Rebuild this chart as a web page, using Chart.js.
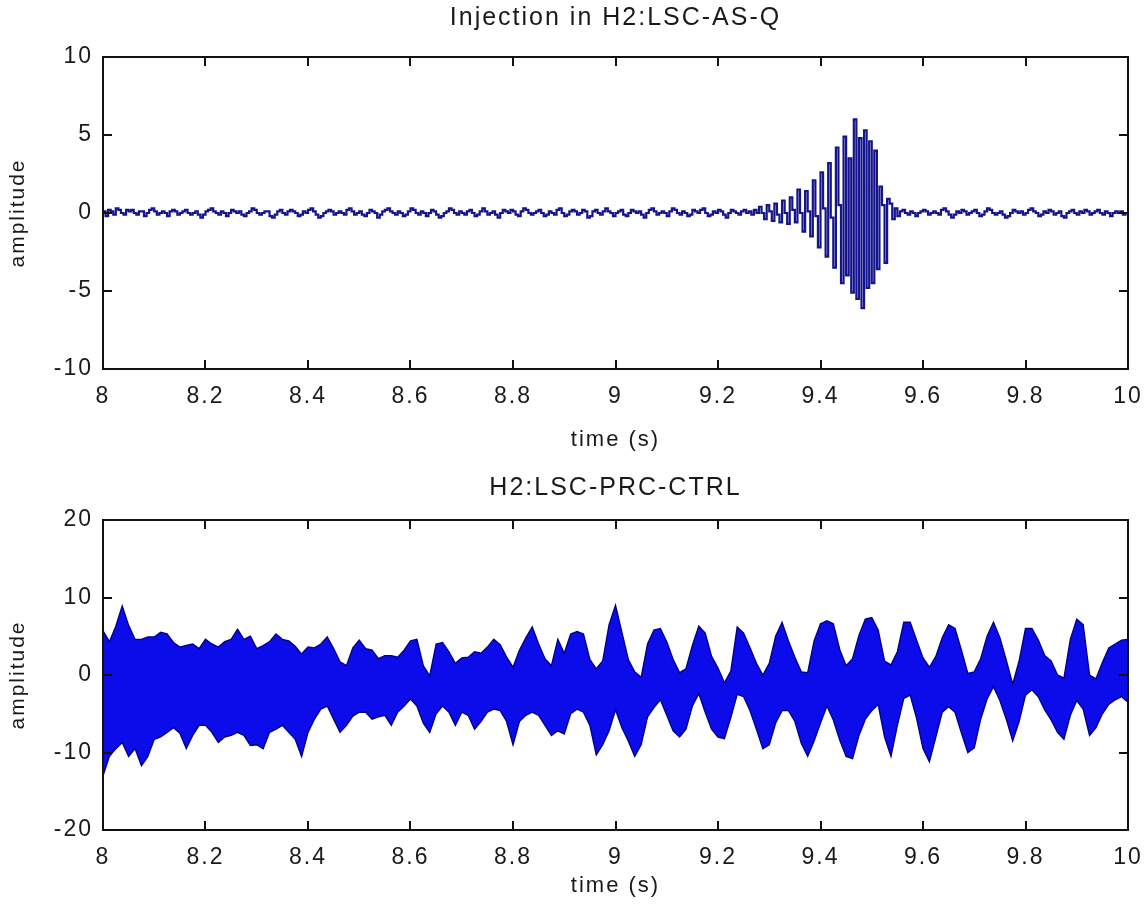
<!DOCTYPE html>
<html>
<head>
<meta charset="utf-8">
<title>H2 injection</title>
<script src="https://cdn.jsdelivr.net/npm/chart.js@4.4.1/dist/chart.umd.min.js"></script>
<style>
  html, body { margin: 0; padding: 0; background: #ffffff; }
  #wrap { position: relative; width: 1144px; height: 916px; background: #ffffff; }
  canvas { position: absolute; left: 0; }
  #top { top: 0; }
  #bottom { top: 458px; }
</style>
</head>
<body>
<div id="wrap">
  <canvas id="top" width="1144" height="458"></canvas>
  <canvas id="bottom" width="1144" height="458"></canvas>
</div>
<script>
// ---- axis ticks ----
const xTicks = [8, 8.2, 8.4, 8.6, 8.8, 9, 9.2, 9.4, 9.6, 9.8, 10];
const xTickLabels = ['8', '8.2', '8.4', '8.6', '8.8', '9', '9.2', '9.4', '9.6', '9.8', '10'];
const yTicksTop = [-10, -5, 0, 5, 10];
const yTicksBottom = [-20, -10, 0, 10, 20];

// ---- H2:LSC-AS-Q, sampled every 5 ms from t = 8 s ----
const tStartTop = 8;
const dtTop = 0.005;
const asqBefore = [
  0.1,-0.2,0.2,0.1,-0.1,0.3,0.2,0.0,-0.1,0.2,0.1,0.2,0.0,-0.1,0.1,0.1,-0.2,0.0,0.2,0.3,
  0.1,-0.1,0.0,0.1,0.0,-0.2,0.1,0.2,0.1,-0.1,0.0,0.1,0.2,0.0,-0.1,0.0,0.1,-0.1,-0.3,-0.1,
  0.1,0.2,0.3,0.1,0.0,-0.1,0.1,0.0,-0.2,0.0,0.2,0.1,0.0,0.1,-0.1,-0.2,0.0,0.1,0.3,0.2,
  0.0,-0.1,0.0,0.1,0.1,-0.2,-0.3,-0.1,0.1,0.2,0.0,-0.1,0.1,0.2,0.1,0.0,-0.2,-0.1,0.1,0.0,
  0.2,0.3,0.1,-0.1,-0.3,-0.2,0.0,0.1,0.2,0.1,-0.1,0.0,0.1,0.0,-0.1,0.2,0.3,0.1,-0.1,0.0,
  0.1,-0.1,-0.2,0.0,0.2,0.1,0.0,-0.3,-0.1,0.1,0.2,0.3,0.1,0.0,-0.1,0.1,0.0,-0.2,-0.1,0.1,
  0.3,0.2,0.0,-0.1,0.1,0.0,-0.2,0.0,0.2,0.1,-0.1,-0.3,-0.2,0.0,0.1,0.3,0.2,0.0,-0.1,0.1,
  0.0,-0.1,0.1,0.2,0.0,-0.2,-0.1,0.1,0.3,0.1,-0.1,0.0,0.1,-0.1,-0.3,0.0,0.2,0.1,0.0,0.2,
  0.1,-0.1,-0.2,0.1,0.3,0.2,0.0,-0.1,0.0,0.1,0.2,0.0,-0.2,-0.1,0.1,0.0,-0.1,0.2,0.3,0.0,
  -0.2,-0.1,0.1,0.2,0.1,-0.1,0.0,0.2,0.1,-0.3,-0.2,0.1,0.2,0.0,-0.1,0.1,0.3,0.1,0.0,-0.2,
  0.0,0.1,0.2,-0.1,-0.2,0.0,0.2,0.1,0.0,0.1,-0.1,-0.3,0.0,0.2,0.3,0.1,-0.1,0.0,0.1,0.0,
  -0.2,0.1,0.3,0.2,0.0,-0.1,0.1,0.0,-0.2,-0.1,0.2,0.1,0.0,0.2,0.3,0.0,-0.2,-0.1,0.1,0.0,
  0.2,0.1,-0.1,-0.3,0.0,0.2,0.1,0.0,-0.1,0.1,0.2,0.0,0.1,-0.1,0.2,0.0
];
// burst: growing oscillation from 9.28 s, densest around the 9.465 s peak
const asqBurst = [
  0.4,0.0,-0.4,  0.5,0.1,-0.5,  0.6,-0.1,-0.6,  0.8,0.0,-0.7,
  1.0,0.2,-0.6,  1.5,0.0,-1.2,  1.4,0.1,-1.5,  2.1,-0.2,-2.2,
  2.6,0.3,-2.8,  3.2,-0.3,-3.5, 4.2,0.5,-4.5,
  4.9,-4.0,3.5,-5.1,6.0,-5.5,4.8,-6.1,5.3,-4.8,4.6,-4.5,4.0,-3.6,
  1.7,0.5,-3.2,0.9,0.6,-0.4
];
const asqAfter = [
  0.3,-0.2,0.1,0.2,0.0,-0.1,0.1,0.0,-0.2,0.0,0.1,0.2,0.1,-0.1,0.0,0.1,0.0,-0.1,0.2,0.3,
  0.1,-0.1,-0.3,-0.1,0.1,0.0,0.2,0.1,-0.1,0.0,0.1,0.2,0.0,-0.2,-0.1,0.1,0.3,0.2,0.0,-0.1,
  0.0,0.1,-0.1,-0.3,-0.2,0.0,0.2,0.1,0.0,0.1,-0.1,0.0,0.2,0.3,0.1,0.0,-0.2,-0.1,0.1,0.0,
  0.2,0.1,-0.1,0.0,0.1,-0.2,-0.3,0.0,0.1,0.2,0.0,-0.1,0.1,0.0,0.2,0.1,-0.1,0.0,0.1,0.2,
  0.0,-0.1,0.1,0.0,-0.2,0.0,0.1,0.0,0.1,-0.1,0.0,0.1
];

// ---- H2:LSC-PRC-CTRL, upper and lower envelope every 12.5 ms from t = 8 s ----
const tStartEnv = 8;
const dtEnv = 0.0125;
const prcUpper = [
  5.7,4.3,6.3,8.9,6.4,4.6,4.6,4.9,4.9,5.5,
  5.3,4.2,3.6,3.8,4.0,3.4,4.6,4.0,3.6,4.3,
  4.6,5.9,4.6,5.0,3.4,3.8,4.3,5.3,4.6,4.4,
  3.7,2.7,3.6,3.5,4.0,4.9,3.4,1.7,1.2,3.5,
  4.5,3.4,3.2,2.1,2.5,2.5,2.3,3.2,4.4,4.6,
  1.2,-0.1,4.0,4.2,3.0,1.5,2.2,2.3,3.0,2.8,
  3.6,4.6,3.9,2.3,1.0,3.2,4.8,6.2,4.0,2.1,
  1.2,4.6,2.8,5.3,5.6,5.3,2.0,0.8,1.8,6.5,
  9.0,5.5,2.0,0.4,-0.3,4.0,5.8,6.0,4.3,2.0,
  0.3,0.8,3.8,6.3,5.4,2.4,0.9,-1.0,0.5,6.2,
  5.4,3.5,1.5,0.0,1.5,5.0,6.8,4.4,2.3,0.4,
  0.3,4.4,6.6,7.0,6.6,3.3,1.2,2.1,5.1,7.2,
  7.4,5.8,1.8,1.3,3.0,6.8,6.8,4.5,2.2,1.0,
  2.4,4.8,6.5,6.0,3.2,0.2,0.4,2.1,5.0,6.8,
  4.8,1.9,-1.2,1.8,6.0,6.0,4.5,2.5,1.8,0.0,
  -0.4,4.6,7.2,6.5,0.0,-0.5,1.6,3.5,4.0,4.5,4.6
];
const prcLower = [
  -13,-10.5,-9.5,-8.7,-10.5,-9.5,-11.7,-10.5,-8.3,-8.0,
  -7.4,-6.8,-7.5,-9.5,-7.8,-6.5,-6.5,-7.4,-8.7,-8.0,
  -7.8,-7.4,-7.8,-9.1,-9.0,-9.5,-7.4,-7.0,-6.5,-7.4,
  -8.3,-10.5,-7.4,-5.7,-4.4,-4.0,-5.7,-7.4,-6.5,-5.3,
  -4.8,-4.8,-5.7,-5.4,-5.2,-6.5,-4.8,-4.0,-3.1,-4.0,
  -6.2,-7.4,-5.0,-4.0,-4.8,-6.5,-4.8,-5.2,-7.0,-6.0,
  -4.8,-4.4,-4.6,-6.0,-9.0,-6.0,-5.2,-4.8,-5.2,-6.5,
  -7.8,-7.2,-7.6,-5.0,-4.4,-4.8,-6.5,-10.3,-9.0,-7.2,
  -4.5,-6.8,-8.5,-10.5,-9.0,-5.4,-4.2,-3.2,-5.2,-7.2,
  -8.0,-7.0,-4.0,-2.4,-4.8,-7.0,-8.0,-8.2,-5.5,-2.5,
  -2.8,-4.6,-7.0,-9.5,-9.0,-6.2,-4.6,-4.6,-6.0,-8.8,
  -10.5,-8.5,-6.2,-4.0,-5.8,-8.4,-10.5,-10.8,-7.8,-5.7,
  -4.6,-3.8,-8.0,-10.5,-6.5,-3.0,-2.6,-5.6,-9.5,-11.2,
  -8.0,-4.8,-4.1,-4.8,-7.5,-10.0,-9.4,-5.7,-3.1,-1.5,
  -3.3,-5.7,-8.5,-6.0,-2.6,-1.9,-2.8,-4.5,-5.8,-7.4,
  -8.3,-5.2,-3.3,-4.4,-7.8,-6.8,-5.0,-3.8,-3.2,-2.8,-3.5
];

// ---- building the point lists ----
function toPoints(values, t0, dt) {
  return values.map((v, i) => ({ x: +(t0 + i * dt).toFixed(4), y: v }));
}
const asqSeries = asqBefore.concat(asqBurst, asqAfter);

// ---- shared look ----
const FONT = 'Liberation Sans, Arial, Helvetica, sans-serif';
const TEXT = '#1a1a1a';
const SPACING = '2px';

// MATLAB-style frame: a closed box with inward tick marks on all four sides
const frameTicks = {
  id: 'frameTicks',
  beforeLayout(chart) { chart.ctx.letterSpacing = SPACING; },
  beforeDraw(chart) { chart.ctx.letterSpacing = SPACING; },
  afterDatasetsDraw(chart) {
    const { ctx, chartArea: a, scales } = chart;
    const len = 9;
    ctx.save();
    ctx.strokeStyle = '#111111';
    ctx.lineWidth = 2;
    ctx.beginPath();
    scales.x.ticks.forEach(t => {
      const px = Math.round(scales.x.getPixelForValue(t.value));
      ctx.moveTo(px, a.bottom); ctx.lineTo(px, a.bottom - len);
      ctx.moveTo(px, a.top); ctx.lineTo(px, a.top + len);
    });
    scales.y.ticks.forEach(t => {
      const py = Math.round(scales.y.getPixelForValue(t.value));
      ctx.moveTo(a.left, py); ctx.lineTo(a.left + len, py);
      ctx.moveTo(a.right, py); ctx.lineTo(a.right - len, py);
    });
    ctx.stroke();
    ctx.strokeRect(a.left, a.top, a.right - a.left, a.bottom - a.top);
    ctx.restore();
  }
};

function makeOptions(cfg) {
  return {
    responsive: false,
    animation: false,
    events: [],
    layout: { padding: { left: 0, right: 16, top: 0, bottom: 0 } },
    plugins: {
      legend: { display: false },
      tooltip: { enabled: false },
      title: {
        display: true,
        fullSize: false,
        text: cfg.title,
        color: TEXT,
        font: { family: FONT, size: 25, weight: 'normal', lineHeight: 1.2 },
        padding: { top: cfg.titleTop, bottom: cfg.titleBottom }
      }
    },
    scales: {
      x: {
        type: 'linear',
        min: 8, max: 10,
        grid: { display: false, drawTicks: false },
        border: { display: false },
        afterBuildTicks: s => { s.ticks = xTicks.map(v => ({ value: v })); },
        afterFit: s => { s.height = cfg.xAxisHeight; s.paddingLeft = 0; s.paddingRight = 0; },
        ticks: {
          color: TEXT, padding: 14, maxRotation: 0, autoSkip: false,
          font: { family: FONT, size: 23 },
          callback: (v, i) => xTickLabels[i]
        },
        title: {
          display: true, text: 'time (s)', color: TEXT,
          font: { family: FONT, size: 22, lineHeight: 1.2 },
          padding: { top: 0, bottom: cfg.xTitleBottom }
        }
      },
      y: {
        type: 'linear',
        min: cfg.yTicks[0], max: cfg.yTicks[cfg.yTicks.length - 1],
        grid: { display: false, drawTicks: false },
        border: { display: false },
        afterBuildTicks: s => { s.ticks = cfg.yTicks.map(v => ({ value: v })); },
        afterFit: s => { s.width = 103; s.paddingTop = 0; s.paddingBottom = 0; },
        ticks: {
          color: TEXT, padding: 10,
          font: { family: FONT, size: 23 },
          callback: v => String(v)
        },
        title: {
          display: true, text: 'amplitude', color: TEXT,
          font: { family: FONT, size: 21, lineHeight: 1.2 },
          padding: { top: 6, bottom: 0 }
        }
      }
    }
  };
}

new Chart(document.getElementById('top'), {
  type: 'line',
  data: {
    datasets: [{
      data: toPoints(asqSeries, tStartTop, dtTop),
      borderColor: 'rgb(20,20,140)',
      borderWidth: 2.2,
      stepped: true,
      pointRadius: 0,
      fill: false
    }]
  },
  options: makeOptions({
    title: 'Injection in H2:LSC-AS-Q',
    titleTop: 3, titleBottom: 24,
    xAxisHeight: 89, xTitleBottom: 5,
    yTicks: yTicksTop
  }),
  plugins: [frameTicks]
});

new Chart(document.getElementById('bottom'), {
  type: 'line',
  data: {
    datasets: [
      {
        data: toPoints(prcUpper, tStartEnv, dtEnv),
        borderColor: 'rgb(0,0,140)',
        borderWidth: 1.4,
        pointRadius: 0,
        fill: false
      },
      {
        data: toPoints(prcLower, tStartEnv, dtEnv),
        borderColor: 'rgb(0,0,140)',
        borderWidth: 1.4,
        pointRadius: 0,
        backgroundColor: 'rgb(12,12,235)',
        fill: '-1'
      }
    ]
  },
  options: makeOptions({
    title: 'H2:LSC-PRC-CTRL',
    titleTop: 15, titleBottom: 17,
    xAxisHeight: 86, xTitleBottom: 17,
    yTicks: yTicksBottom
  }),
  plugins: [frameTicks]
});
</script>
</body>
</html>
